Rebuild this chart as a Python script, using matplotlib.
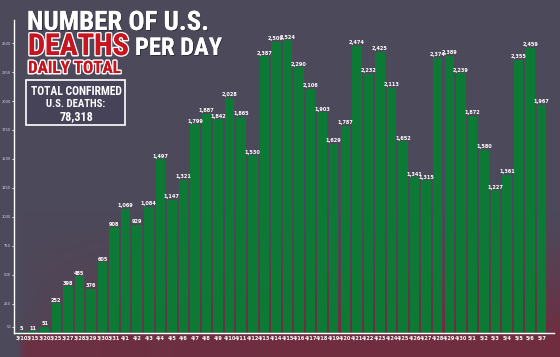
import numpy as np
import matplotlib
matplotlib.use("Agg")
import matplotlib.pyplot as plt
from matplotlib import font_manager
from matplotlib.patches import Rectangle
import matplotlib.patheffects as pe

# ---------------- data ----------------
dates = ["3/10", "3/15", "3/20", "3/25", "3/27", "3/28", "3/29", "3/30", "3/31",
         "4/1", "4/2", "4/3", "4/4", "4/5", "4/6", "4/7", "4/8", "4/9", "4/10",
         "4/11", "4/12", "4/13", "4/14", "4/15", "4/16", "4/17", "4/18", "4/19",
         "4/20", "4/21", "4/22", "4/23", "4/24", "4/25", "4/26", "4/27", "4/28",
         "4/29", "4/30", "5/1", "5/2", "5/3", "5/4", "5/5", "5/6", "5/7"]
deaths = [5, 11, 51, 252, 398, 485, 376, 605, 908,
          1069, 929, 1084, 1497, 1147, 1321, 1799, 1887, 1842, 2028,
          1865, 1530, 2387, 2509, 2524, 2290, 2106, 1903, 1629,
          1787, 2474, 2232, 2425, 2113, 1652, 1341, 1315, 2374,
          2389, 2239, 1872, 1580, 1227, 1361, 2355, 2459, 1967]
yticks = [50, 250, 500, 750, 1000, 1250, 1500, 1750, 2000, 2250, 2500]
title_line1 = "NUMBER OF U.S."
title_red = "DEATHS"
title_white = "PER DAY"
subtitle = "DAILY TOTAL"
box_lines = ["TOTAL CONFIRMED", "U.S. DEATHS:", "78,318"]

W, H = 560, 357
fig = plt.figure(figsize=(W / 100, H / 100), dpi=100)

# ---------------- background ----------------
bg = fig.add_axes([0, 0, 1, 1], zorder=-10)
yy, xx = np.mgrid[0:H, 0:W].astype(float)
top = np.array([0x4c, 0x49, 0x5a]) / 255
mar = np.array([0x70, 0x2d, 0x40]) / 255
wy = np.clip((yy - 210) / 125, 0, 1) ** 1.3
wx = np.clip((xx - 20) / 260, 0, 1) ** 0.6
w_above = wy * wx
w_below = np.clip((xx - 16) / 10, 0, 1) * (0.85 + 0.15 * np.clip((xx - 16) / 300, 0, 1))
w = np.where(yy > 333, np.maximum(w_below, w_above), w_above)[..., None]
img = top * (1 - w) + mar * w
bg.imshow(img, aspect="auto", extent=[0, 1, 0, 1], origin="upper")
bg.axis("off")

# ---------------- fonts ----------------
names = {f.name for f in font_manager.fontManager.ttflist}
head_font = "DejaVu Serif"
for cand in ["Liberation Sans Narrow", "Roboto Condensed", "Open Sans Condensed",
             "DejaVu Sans Condensed", "DejaVu Serif Condensed", "Liberation Serif"]:
    if cand in names:
        head_font = cand
        break
small_font = "DejaVu Sans"

# ---------------- chart ----------------
ax_left, ax_right, ax_bot, ax_top = 14, 554, 332.5, 20
ax = fig.add_axes([ax_left / W, 1 - ax_bot / H, (ax_right - ax_left) / W, (ax_bot - ax_top) / H])
ax.patch.set_alpha(0)
x = np.arange(len(dates))
ax.bar(x, deaths, width=0.82, color="#0c7a34", zorder=2)
ax.set_xlim(-0.66, 46.06)
ax.set_ylim(0, 2700)
for s in ["top", "right"]:
    ax.spines[s].set_visible(False)
for s in ["left", "bottom"]:
    ax.spines[s].set_color("white")
    ax.spines[s].set_linewidth(1.0)
ax.set_yticks(yticks)
ax.set_yticklabels([str(v) for v in yticks], fontsize=2.6, color="#d8d6e0",
                   fontfamily=small_font)
ax.tick_params(axis="y", length=1.5, width=0.6, color="white", pad=0.6)
ax.set_xticks(x)
ax.set_xticklabels(dates, fontsize=3.6, color="white", fontweight="bold",
                   fontfamily=small_font)
ax.tick_params(axis="x", length=0, pad=2.2)

for i, v in enumerate(deaths):
    ax.text(i, v + 6, f"{v:,}", ha="center", va="bottom", fontsize=3.6,
            fontweight="bold", color="white", fontfamily=small_font, zorder=3)

# ---------------- titles ----------------
renderer = fig.canvas.get_renderer()


def fig_text(px, py, s, width_px, color, outline=None):
    t = fig.text(px / W, 1 - py / H, s, ha="left", va="baseline", color=color,
                 fontfamily=head_font, fontweight="bold", fontsize=20)
    bb = t.get_window_extent(renderer)
    t.set_fontsize(20 * width_px / bb.width)
    if outline:
        t.set_path_effects([pe.withStroke(linewidth=2.2, foreground=outline), pe.Normal()])
    else:
        t.set_path_effects([pe.withSimplePatchShadow(offset=(0.6, -0.6),
                                                     shadow_rgbFace="#201c28", alpha=0.8),
                            pe.Normal()])
    return t


fig_text(27, 30, title_line1, 182, "white")
fig_text(28, 55, title_red, 101, "#c8141e", outline="white")
fig_text(135, 55, title_white, 87, "white")
fig_text(28, 73, subtitle, 93, "#c8141e", outline="white")

box = Rectangle((26 / W, 1 - 125 / H), 99 / W, 45 / H, transform=fig.transFigure,
                facecolor="#464359", edgecolor="white", linewidth=1.2, zorder=5)
fig.add_artist(box)


def box_text(cx, py, s, width_px):
    t = fig.text(cx / W, 1 - py / H, s, ha="center", va="baseline", color="white",
                 fontfamily=head_font, fontweight="bold", fontsize=10, zorder=6)
    bb = t.get_window_extent(renderer)
    t.set_fontsize(10 * width_px / bb.width)
    return t


box_text(76, 95, box_lines[0], 91)
box_text(76, 107, box_lines[1], 60)
box_text(76, 120, box_lines[2], 34)

fig.savefig("out.png", dpi=100)
